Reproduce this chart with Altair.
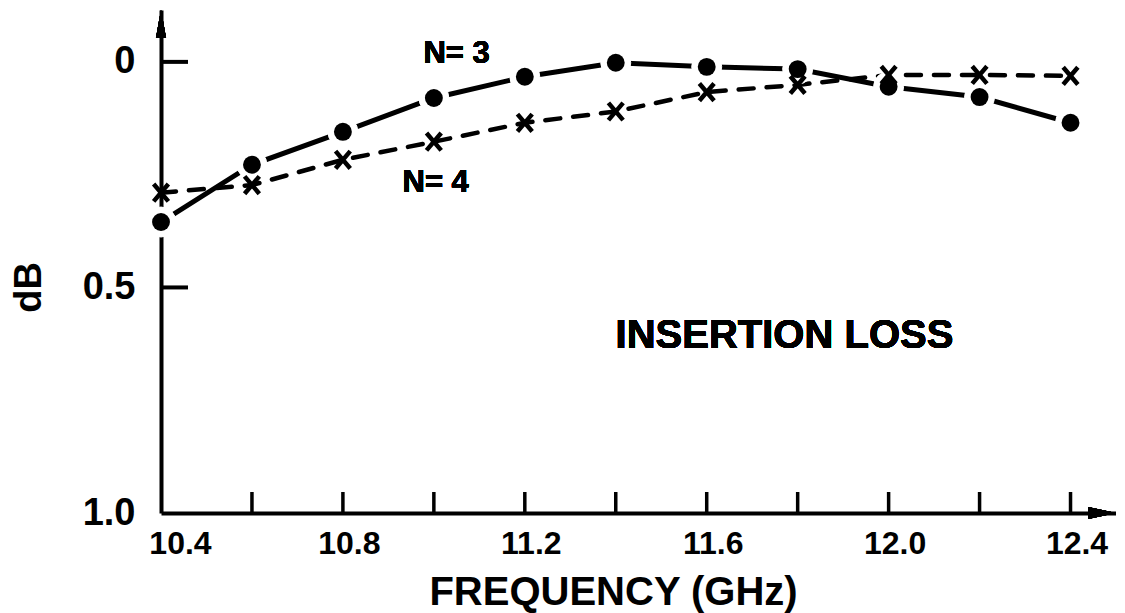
import altair as alt
import pandas as pd

# ---- data ----
freq = [10.4, 10.6, 10.8, 11.0, 11.2, 11.4, 11.6, 11.8, 12.0, 12.2, 12.4]
loss_n3 = [0.355, 0.228, 0.155, 0.080, 0.033, 0.002, 0.011, 0.016, 0.055, 0.078, 0.135]
loss_n4 = [0.290, 0.273, 0.217, 0.177, 0.135, 0.110, 0.067, 0.051, 0.029, 0.029, 0.031]

x_tick_values = [10.6, 10.8, 11.0, 11.2, 11.4, 11.6, 11.8, 12.0, 12.2, 12.4]
x_label_values = [10.4, 10.8, 11.2, 11.6, 12.0, 12.4]
y_label_values = [0.0, 0.5, 1.0]
y_tick_values = [0.0, 0.5]

FONT = "Liberation Sans"
W, H = 955, 503

df = pd.DataFrame({"freq": freq, "n3": loss_n3, "n4": loss_n4})
xticks = pd.DataFrame({"t": x_tick_values})
yticks = pd.DataFrame({"v": y_tick_values})

xscale = alt.Scale(domain=[10.4, 12.5], nice=False, zero=False)
yscale = alt.Scale(domain=[-0.115, 1.0], reverse=True, nice=False, zero=False)

x_axis = alt.Axis(
    values=x_label_values, ticks=False, grid=False, format=".1f",
    domainColor="black", domainWidth=4, labelFlush=False,
    labelFont=FONT, labelFontSize=32, labelFontWeight="bold", labelColor="black", labelPadding=15,
    labelOffset={"condition": {"test": "datum.value < 10.5", "value": 19}, "value": 6},
    title="FREQUENCY (GHz)", titleFont=FONT, titleFontSize=40, titleFontWeight="bold",
    titleColor="black", titleX=452, titleY=91, titleAlign="center", titleBaseline="alphabetic",
)
y_axis = alt.Axis(
    values=y_label_values, ticks=False, grid=False,
    labelExpr="datum.value == 0 ? '0' : format(datum.value, '.1f')",
    domainColor="black", domainWidth=4, labelFlush=False,
    labelFont=FONT, labelFontSize=38, labelFontWeight="bold", labelColor="black", labelPadding=26,
    labelBaseline="middle",
    title="dB", titleFont=FONT, titleFontSize=38, titleFontWeight="bold",
    titleColor="black", titleX=-132, titleY=277, titleAngle=270,
    titleAlign="center", titleBaseline="middle",
)


def X(field):
    return alt.X(field, type="quantitative", scale=xscale, axis=x_axis)


def Y(field):
    return alt.Y(field, type="quantitative", scale=yscale, axis=y_axis)


def XD(v):
    return alt.XDatum(v, type="quantitative", scale=xscale, axis=x_axis)


def YD(v):
    return alt.YDatum(v, type="quantitative", scale=yscale, axis=y_axis)


base = alt.Chart(df)

line3 = base.mark_line(color="black", strokeWidth=5, strokeCap="round").encode(x=X("freq"), y=Y("n3"))
line4 = base.mark_line(color="black", strokeWidth=4.5, strokeCap="round", strokeDash=[15, 13]).encode(
    x=X("freq"), y=Y("n4"))
halo3 = base.mark_circle(fill="#ffffff", stroke="#ffffff", strokeWidth=1, fillOpacity=1, opacity=1).encode(
    x=X("freq"), y=Y("n3"), size=alt.value(900))
dots3 = base.mark_circle(fill="black", fillOpacity=1, opacity=1).encode(
    x=X("freq"), y=Y("n3"), size=alt.value(320))
cross4 = base.mark_point(
    shape="M-0.85,-1L0.85,1M0.85,-1L-0.85,1", filled=False, color="black",
    strokeWidth=4.5, size=300, opacity=1,
).encode(x=X("freq"), y=Y("n4"))

xtick_rules = alt.Chart(xticks).mark_rule(color="black", strokeWidth=3.5).encode(
    x=X("t"), y=alt.value(H), y2=alt.value(H - 21))
ytick_rules = alt.Chart(yticks).mark_rule(color="black", strokeWidth=4).encode(
    y=Y("v"), x=alt.value(0), x2=alt.value(27))

x_arrow = alt.Chart(df).mark_point(
    shape="M0,0L-2,-0.43L-2,0.43Z", filled=True, color="black", size=784, opacity=1,
).encode(x=XD(12.5), y=YD(1.0))
y_arrow = alt.Chart(df).mark_point(
    shape="M0,0L-0.36,2L0.36,2Z", filled=True, color="black", size=784, opacity=1,
).encode(x=XD(10.4), y=YD(-0.115))

lab_n3 = alt.Chart(df).mark_text(
    text="N= 3", font=FONT, fontSize=31, fontWeight="bold", color="black", align="center", baseline="middle",
).encode(x=XD(11.05), y=YD(-0.018))
lab_n4 = alt.Chart(df).mark_text(
    text="N= 4", font=FONT, fontSize=31, fontWeight="bold", color="black", align="center", baseline="middle",
).encode(x=XD(11.004), y=YD(0.268))
lab_il = alt.Chart(df).mark_text(
    text="INSERTION LOSS", font=FONT, fontSize=40, fontWeight="bold", color="black", align="center",
    baseline="middle",
).encode(x=XD(11.771), y=YD(0.6075))

chart = alt.layer(
    line3, line4, halo3, dots3, cross4, xtick_rules, ytick_rules,
    x_arrow, y_arrow, lab_n3, lab_n4, lab_il,
).properties(
    width=W, height=H,
    autosize=alt.AutoSizeParams(type="none"),
    padding={"left": 153, "top": 2, "right": 0, "bottom": 100},
    background="white",
).configure_view(stroke=None)

chart.save("out.html", embed_options={"renderer": "svg", "actions": False})
